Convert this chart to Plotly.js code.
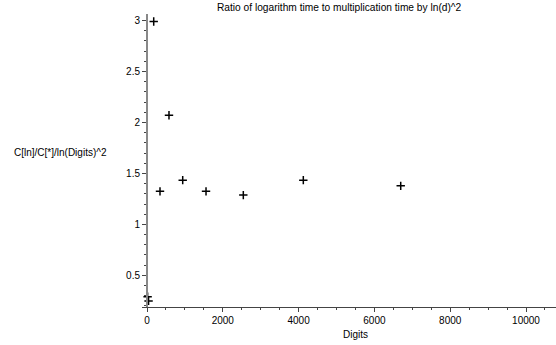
<!DOCTYPE html>
<html>
<head>
<meta charset="utf-8">
<script src="https://cdn.plot.ly/plotly-3.0.1.min.js"></script>
<style>html,body{margin:0;padding:0;overflow:hidden;background:#fff;}#chart{width:556px;height:345px;}</style>
</head>
<body>
<div id="chart"></div>
<script>
// Data
const digits = [16, 41, 177, 343, 580, 942, 1557, 2541, 4124, 6694, 10840];
const ratio  = [0.29, 0.25, 2.99, 1.324, 2.07, 1.434, 1.324, 1.287, 1.434, 1.378, 1.63];
const titleText = "Ratio of logarithm time to multiplication time by ln(d)^2";
const xTitle = "Digits";
const yTitle = "C[ln]/C[*]/ln(Digits)^2";
const xTicks = [0, 2000, 4000, 6000, 8000, 10000];
const yTicks = [0.5, 1, 1.5, 2, 2.5, 3];

const xRange = [-132, 10791];
const yRange = [0.19, 3.063];
const yAxisPos = (0 - xRange[0]) / (xRange[1] - xRange[0]);
const font = {family: "Liberation Sans, Arial, sans-serif", size: 10, color: "#000"};

Plotly.newPlot("chart", [{
  x: digits, y: ratio, type: "scatter", mode: "markers",
  cliponaxis: false,
  marker: {symbol: "cross-thin-open", size: 6, color: "#000", line: {color: "#000", width: 1.5}},
  hoverinfo: "none", showlegend: false
}], {
  width: 556, height: 345,
  margin: {l: 142, r: 0, t: 14, b: 38, pad: 0},
  paper_bgcolor: "#fff", plot_bgcolor: "#fff",
  font: font,
  title: {text: titleText, font: {family: font.family, size: 10.2, color: "#000"}, x: 217/556, xanchor: "left", xref: "container", y: 1 - 7/345, yref: "container", yanchor: "middle"},
  xaxis: {
    range: xRange, tickvals: xTicks, ticktext: xTicks.map(String),
    showgrid: false, zeroline: false, showline: true, linecolor: "#444", linewidth: 1.3,
    ticks: "outside", ticklen: 4, tickcolor: "#444", tickwidth: 1, tickfont: font,
    minor: {dtick: 500, ticks: "outside", ticklen: 2, tickcolor: "#444", showgrid: false},
    title: {text: ""}
  },
  yaxis: {
    range: yRange, tickvals: yTicks, ticktext: yTicks.map(String),
    anchor: "free", position: yAxisPos,
    showgrid: false, zeroline: false, showline: true, linecolor: "#888", linewidth: 2,
    ticks: "outside", ticklen: 4, tickcolor: "#444", tickwidth: 1, tickfont: font,
    minor: {dtick: 0.1, ticks: "outside", ticklen: 2, tickcolor: "#444", showgrid: false},
    title: {text: ""}
  },
  annotations: [
    {text: xTitle, xref: "paper", yref: "paper", x: (355-142)/414, y: -(334-306.7)/293, xanchor: "center", yanchor: "middle", showarrow: false, font: font},
    {text: yTitle, xref: "paper", yref: "paper", x: -(142-12)/414, y: (306.7-152)/293, xanchor: "left", yanchor: "middle", showarrow: false, font: font}
  ]
}, {staticPlot: true, displayModeBar: false});
</script>
</body>
</html>
